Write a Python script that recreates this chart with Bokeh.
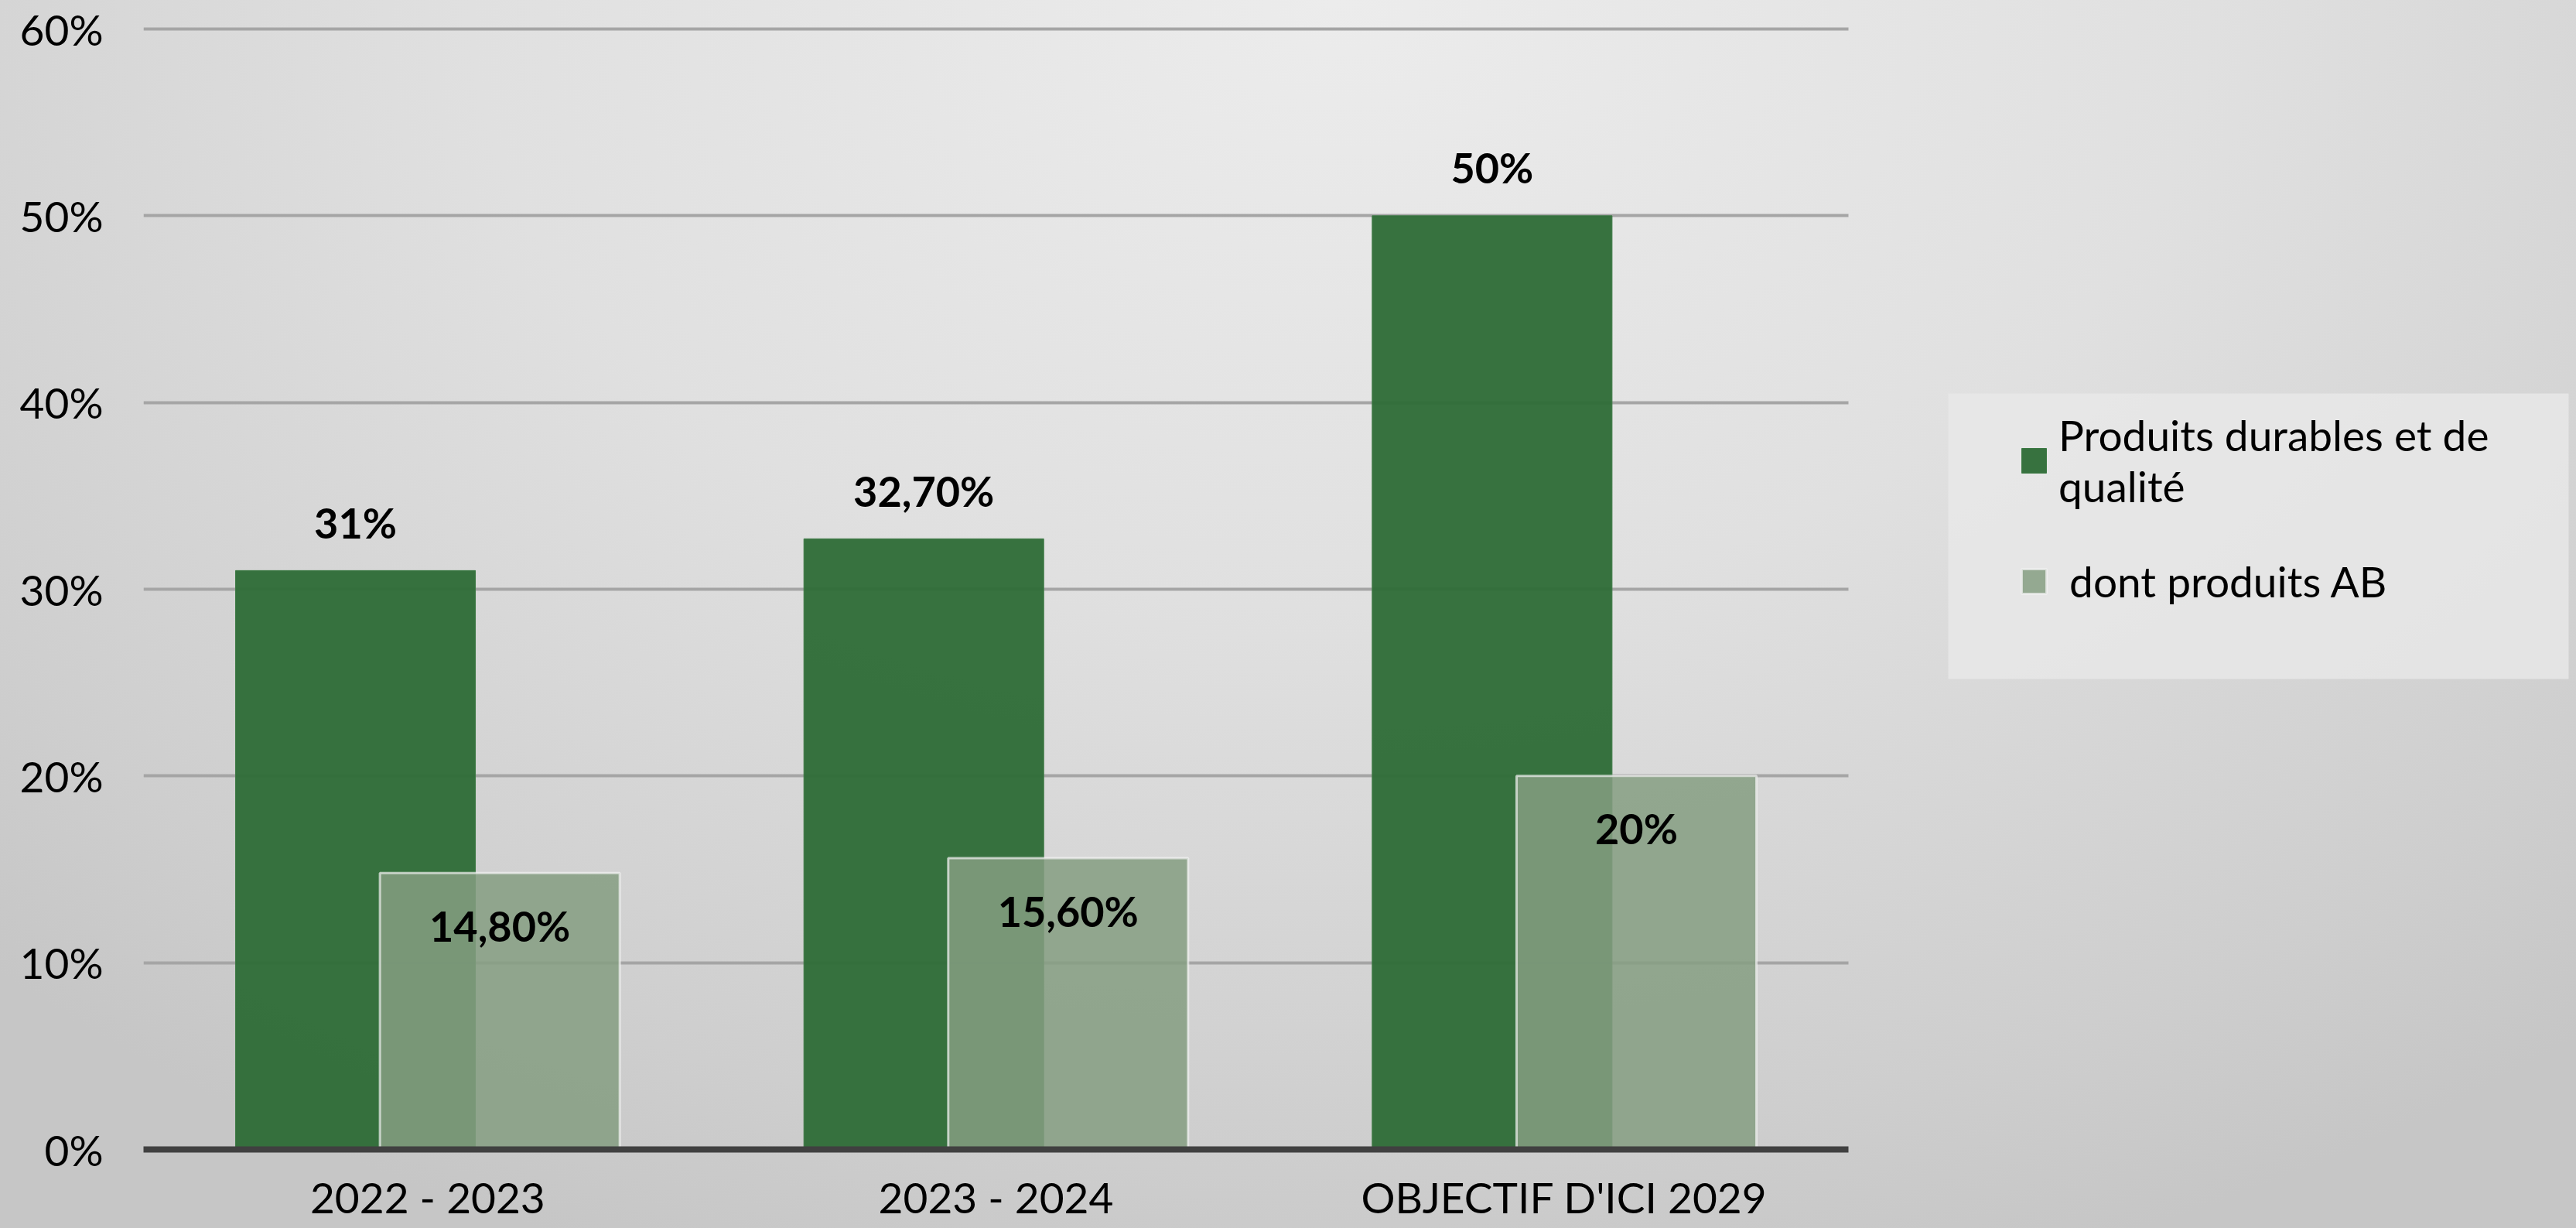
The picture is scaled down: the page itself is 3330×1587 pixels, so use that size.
from bokeh.plotting import figure
from bokeh.models import (ColumnDataSource, Range1d, NumeralTickFormatter, CustomJSTickFormatter,
                          FixedTicker, LabelSet, Legend, LegendItem, BoxAnnotation)
from bokeh.core.properties import value
from bokeh.transform import dodge
from bokeh.embed import file_html
from bokeh.resources import INLINE

# ---- data ----
categories = ["2022 - 2023", "2023 - 2024", "OBJECTIF D'ICI 2029"]
durables = [0.31, 0.327, 0.50]
bio = [0.148, 0.156, 0.20]
durables_labels = ["31%", "32,70%", "50%"]
bio_labels = ["14,80%", "15,60%", "20%"]
series_names = ["Produits durables et de\nqualité", " dont produits AB"]
y_ticks = [0.0, 0.1, 0.2, 0.3, 0.4, 0.5, 0.6]

n = len(categories)
x_pos = [i + 0.5 for i in range(n)]
src = ColumnDataSource(dict(x=x_pos, cat=categories, dur=durables, bio=bio,
                            dur_lab=durables_labels, bio_lab=bio_labels))

FONT = "Lato"
FS = "55px"

# ---- layout (pixels) ----
W, H = 3330, 1587
FRAME_L, PLOT_R, FRAME_B, TOP_TICK = 185, 2389, 1485, 37
PX_PER_Y = (FRAME_B - TOP_TICK) / y_ticks[-1]
PX_PER_X = (PLOT_R - FRAME_L) / n
LEG_L, LEG_T, LEG_R, LEG_B = 2518, 508, 3320, 877

p = figure(x_range=Range1d(0, (W - FRAME_L) / PX_PER_X),
           y_range=Range1d(0, FRAME_B / PX_PER_Y),
           width=W, height=H,
           output_backend="svg", toolbar_location=None,
           min_border_left=FRAME_L, min_border_right=0,
           min_border_top=0, min_border_bottom=H - FRAME_B)

p.styles = {"background": "radial-gradient(ellipse 75% 110% at 52% 0%, #ececec 0%, #e0e0e0 45%, #cecece 85%, #c6c6c6 100%)"}
p.background_fill_alpha = 0
p.border_fill_alpha = 0
p.outline_line_color = None

# gridlines limited to the plotting area
p.xgrid.grid_line_color = None
p.ygrid.ticker = FixedTicker(ticks=y_ticks)
p.ygrid.grid_line_color = "#a5a5a5"
p.ygrid.grid_line_width = 4
try:
    p.ygrid.cross_bounds = (0, n)
except Exception:
    p.ygrid.grid_line_color = None
    p.segment(x0=0, x1=n, y0=y_ticks[1:], y1=y_ticks[1:], line_color="#a5a5a5", line_width=4)

bw = 0.422
r1 = p.vbar(x=dodge("x", -0.127), top="dur", width=bw, source=src,
            fill_color="#2d6c36", fill_alpha=0.95, line_color="#3d7a45", line_width=1)
r2 = p.vbar(x=dodge("x", 0.127), top="bio", width=bw, source=src,
            fill_color="#859d81", fill_alpha=0.85, line_color="#f2f2f2", line_alpha=0.7, line_width=3)

lab1 = LabelSet(x=dodge("x", -0.127), y="dur", text="dur_lab", source=src,
                y_offset=62, text_align="center", text_baseline="middle",
                text_font=value(FONT), text_font_size=value("54px"), text_font_style="bold",
                text_color="black")
lab2 = LabelSet(x=dodge("x", 0.127), y="bio", text="bio_lab", source=src,
                y_offset=-68, text_align="center", text_baseline="middle",
                text_font=value(FONT), text_font_size=value("54px"), text_font_style="bold",
                text_color="black")
p.add_layout(lab1)
p.add_layout(lab2)

# axes
p.yaxis.ticker = FixedTicker(ticks=y_ticks)
p.yaxis.formatter = NumeralTickFormatter(format="0%")
p.yaxis.axis_line_color = None
p.yaxis.major_tick_line_color = None
p.yaxis.minor_tick_line_color = None
p.yaxis.major_label_standoff = 46
p.yaxis.major_label_text_font = FONT
p.yaxis.major_label_text_font_size = FS
p.yaxis.major_label_text_color = "black"

p.xaxis.ticker = FixedTicker(ticks=x_pos)
p.xaxis.formatter = CustomJSTickFormatter(args=dict(cats=categories),
                                          code="return cats[Math.round(tick - 0.5)];")
p.xaxis.bounds = (0, n)
p.xaxis.axis_line_color = "#404040"
p.xaxis.axis_line_width = 8
p.xaxis.major_tick_line_color = None
p.xaxis.minor_tick_line_color = None
p.xaxis.major_label_standoff = 22
p.xaxis.major_label_text_font = FONT
p.xaxis.major_label_text_font_size = FS
p.xaxis.major_label_text_color = "black"

# legend background panel
leg_box = BoxAnnotation(left=(LEG_L - FRAME_L) / PX_PER_X, right=(LEG_R - FRAME_L) / PX_PER_X,
                        bottom=(FRAME_B - LEG_B) / PX_PER_Y, top=(FRAME_B - LEG_T) / PX_PER_Y,
                        fill_color="#e9e9e9", fill_alpha=0.8, line_color=None)
p.add_layout(leg_box)

legend = Legend(items=[LegendItem(label=series_names[0], renderers=[r1]),
                       LegendItem(label=series_names[1], renderers=[r2])],
                location=(2609 - FRAME_L, FRAME_B - 784))
legend.margin = 0
legend.padding = 70
legend.spacing = 57
legend.glyph_width = 40
legend.glyph_height = 40
legend.label_standoff = 12
legend.label_text_font = FONT
legend.label_text_font_size = FS
legend.label_text_line_height = 1.15
legend.label_text_color = "black"
legend.background_fill_alpha = 0
legend.border_line_color = None
p.add_layout(legend, "center")

open("out.html", "w").write(file_html(p, INLINE))
